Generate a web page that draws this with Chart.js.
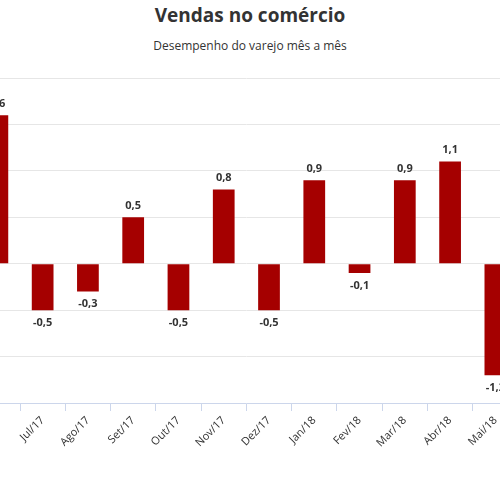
<!DOCTYPE html>
<html><head><meta charset="utf-8">
<script src="https://cdn.jsdelivr.net/npm/chart.js@4"></script>
<style>
body{margin:0;width:500px;height:486px;overflow:hidden;position:relative;background:#fff;font-family:"Open Sans",sans-serif}
#t{position:absolute;top:2px;width:500px;text-align:center;font-size:19px;font-weight:bold;color:#333}
#s{position:absolute;top:37px;width:500px;text-align:center;font-size:12px;color:#333}
#w{position:absolute;left:-29px;top:68px;width:547px;height:418px}
</style></head><body>
<div id="t">Vendas no comércio</div>
<div id="s">Desempenho do varejo mês a mês</div>
<div id="w"><canvas id="c"></canvas></div>
<script>
const meses = ['Jun/17','Jul/17','Ago/17','Set/17','Out/17','Nov/17','Dez/17','Jan/18','Fev/18','Mar/18','Abr/18','Mai/18'];
const variacao = [1.6,-0.5,-0.3,0.5,-0.5,0.8,-0.5,0.9,-0.1,0.9,1.1,-1.2];

const rotulos = {
  id: 'rotulos',
  afterDatasetsDraw(chart) {
    const c = chart.ctx;
    c.save();
    c.font = 'bold 11px "Open Sans"';
    c.fillStyle = '#333';
    c.textAlign = 'center';
    chart.getDatasetMeta(0).data.forEach((bar, i) => {
      const v = variacao[i];
      const txt = v.toFixed(1).replace('.', ',');
      if (v >= 0) { c.textBaseline = 'bottom'; c.fillText(txt, bar.x, bar.y - 6); }
      else { c.textBaseline = 'top'; c.fillText(txt, bar.x, bar.y + 7); }
    });
    c.restore();
  }
};

new Chart(document.getElementById('c'), {
  type: 'bar',
  data: { labels: meses, datasets: [{ data: variacao, backgroundColor: '#a50000', barPercentage: 0.48, categoryPercentage: 1 }] },
  options: {
    responsive: true, maintainAspectRatio: false, animation: false,
    layout: { padding: { top: 10, left: 0, right: 0, bottom: 0 } },
    plugins: { legend: { display: false }, tooltip: { enabled: false } },
    scales: {
      x: {
        offset: true,
        grid: { offset: true, drawOnChartArea: false, tickLength: 8, color: '#ccd6eb' },
        border: { color: '#ccd6eb' },
        ticks: { minRotation: 45, maxRotation: 45, color: '#333', font: { size: 11, family: 'Open Sans' } },
        afterFit(s) { s.height = 83; }
      },
      y: {
        min: -1.5, max: 2, 
        ticks: { display: false, stepSize: 0.5 },
        border: { display: false },
        grid: { color: '#e6e6e6', drawTicks: false },
        afterFit(s) { s.width = 0; }
      }
    }
  },
  plugins: [rotulos]
});
</script>
</body></html>
